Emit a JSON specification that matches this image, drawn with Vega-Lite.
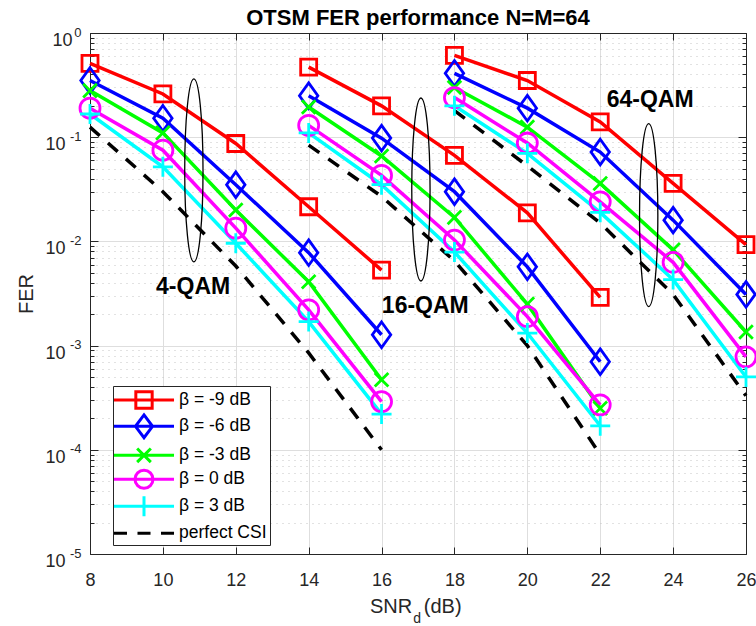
{
  "$schema": "https://vega.github.io/schema/vega-lite/v6.json",
  "width": 656,
  "height": 521,
  "autosize": {"type": "none"},
  "padding": {"left": 90, "top": 33, "right": 10, "bottom": 72},
  "background": "white",
  "title": {"text": "OTSM FER performance N=M=64", "fontSize": 22, "fontWeight": "bold", "color": "#000000", "anchor": "middle", "offset": -3.5, "font": "Liberation Sans"},
  "config": {"font": "Liberation Sans", "view": {"stroke": "#262626", "strokeWidth": 1}, "axis": {"minExtent": 0}},
  "datasets": {
    "curves": [
      {"mod": "4-QAM", "series": "β = -9 dB", "snr": 8, "fer": 0.51},
      {"mod": "4-QAM", "series": "β = -9 dB", "snr": 10, "fer": 0.26},
      {"mod": "4-QAM", "series": "β = -9 dB", "snr": 12, "fer": 0.087},
      {"mod": "4-QAM", "series": "β = -9 dB", "snr": 14, "fer": 0.0215},
      {"mod": "4-QAM", "series": "β = -9 dB", "snr": 16, "fer": 0.0053},
      {"mod": "4-QAM", "series": "β = -6 dB", "snr": 8, "fer": 0.35},
      {"mod": "4-QAM", "series": "β = -6 dB", "snr": 10, "fer": 0.152},
      {"mod": "4-QAM", "series": "β = -6 dB", "snr": 12, "fer": 0.035},
      {"mod": "4-QAM", "series": "β = -6 dB", "snr": 14, "fer": 0.0078},
      {"mod": "4-QAM", "series": "β = -6 dB", "snr": 16, "fer": 0.00127},
      {"mod": "4-QAM", "series": "β = -3 dB", "snr": 8, "fer": 0.28},
      {"mod": "4-QAM", "series": "β = -3 dB", "snr": 10, "fer": 0.11},
      {"mod": "4-QAM", "series": "β = -3 dB", "snr": 12, "fer": 0.02},
      {"mod": "4-QAM", "series": "β = -3 dB", "snr": 14, "fer": 0.0041},
      {"mod": "4-QAM", "series": "β = -3 dB", "snr": 16, "fer": 0.00047},
      {"mod": "4-QAM", "series": "β = 0 dB", "snr": 8, "fer": 0.19},
      {"mod": "4-QAM", "series": "β = 0 dB", "snr": 10, "fer": 0.075},
      {"mod": "4-QAM", "series": "β = 0 dB", "snr": 12, "fer": 0.0134},
      {"mod": "4-QAM", "series": "β = 0 dB", "snr": 14, "fer": 0.0022},
      {"mod": "4-QAM", "series": "β = 0 dB", "snr": 16, "fer": 0.00029},
      {"mod": "4-QAM", "series": "β = 3 dB", "snr": 8, "fer": 0.167},
      {"mod": "4-QAM", "series": "β = 3 dB", "snr": 10, "fer": 0.052},
      {"mod": "4-QAM", "series": "β = 3 dB", "snr": 12, "fer": 0.0096},
      {"mod": "4-QAM", "series": "β = 3 dB", "snr": 14, "fer": 0.0017},
      {"mod": "4-QAM", "series": "β = 3 dB", "snr": 16, "fer": 0.00022},
      {"mod": "4-QAM", "series": "perfect CSI", "snr": 8, "fer": 0.125},
      {"mod": "4-QAM", "series": "perfect CSI", "snr": 10, "fer": 0.03},
      {"mod": "4-QAM", "series": "perfect CSI", "snr": 12, "fer": 0.0058},
      {"mod": "4-QAM", "series": "perfect CSI", "snr": 14, "fer": 0.00085},
      {"mod": "4-QAM", "series": "perfect CSI", "snr": 16, "fer": 0.0001},
      {"mod": "16-QAM", "series": "β = -9 dB", "snr": 14, "fer": 0.47},
      {"mod": "16-QAM", "series": "β = -9 dB", "snr": 16, "fer": 0.2},
      {"mod": "16-QAM", "series": "β = -9 dB", "snr": 18, "fer": 0.067},
      {"mod": "16-QAM", "series": "β = -9 dB", "snr": 20, "fer": 0.0188},
      {"mod": "16-QAM", "series": "β = -9 dB", "snr": 22, "fer": 0.0029},
      {"mod": "16-QAM", "series": "β = -6 dB", "snr": 14, "fer": 0.25},
      {"mod": "16-QAM", "series": "β = -6 dB", "snr": 16, "fer": 0.098},
      {"mod": "16-QAM", "series": "β = -6 dB", "snr": 18, "fer": 0.03},
      {"mod": "16-QAM", "series": "β = -6 dB", "snr": 20, "fer": 0.0057},
      {"mod": "16-QAM", "series": "β = -6 dB", "snr": 22, "fer": 0.0007},
      {"mod": "16-QAM", "series": "β = -3 dB", "snr": 14, "fer": 0.195},
      {"mod": "16-QAM", "series": "β = -3 dB", "snr": 16, "fer": 0.066},
      {"mod": "16-QAM", "series": "β = -3 dB", "snr": 18, "fer": 0.017},
      {"mod": "16-QAM", "series": "β = -3 dB", "snr": 20, "fer": 0.0025},
      {"mod": "16-QAM", "series": "β = -3 dB", "snr": 22, "fer": 0.00025},
      {"mod": "16-QAM", "series": "β = 0 dB", "snr": 14, "fer": 0.13},
      {"mod": "16-QAM", "series": "β = 0 dB", "snr": 16, "fer": 0.043},
      {"mod": "16-QAM", "series": "β = 0 dB", "snr": 18, "fer": 0.0103},
      {"mod": "16-QAM", "series": "β = 0 dB", "snr": 20, "fer": 0.0019},
      {"mod": "16-QAM", "series": "β = 0 dB", "snr": 22, "fer": 0.00027},
      {"mod": "16-QAM", "series": "β = 3 dB", "snr": 14, "fer": 0.11},
      {"mod": "16-QAM", "series": "β = 3 dB", "snr": 16, "fer": 0.035},
      {"mod": "16-QAM", "series": "β = 3 dB", "snr": 18, "fer": 0.0079},
      {"mod": "16-QAM", "series": "β = 3 dB", "snr": 20, "fer": 0.00132},
      {"mod": "16-QAM", "series": "β = 3 dB", "snr": 22, "fer": 0.00017},
      {"mod": "16-QAM", "series": "perfect CSI", "snr": 14, "fer": 0.084},
      {"mod": "16-QAM", "series": "perfect CSI", "snr": 16, "fer": 0.027},
      {"mod": "16-QAM", "series": "perfect CSI", "snr": 18, "fer": 0.0065},
      {"mod": "16-QAM", "series": "perfect CSI", "snr": 20, "fer": 0.001},
      {"mod": "16-QAM", "series": "perfect CSI", "snr": 22, "fer": 0.00009},
      {"mod": "64-QAM", "series": "β = -9 dB", "snr": 18, "fer": 0.61},
      {"mod": "64-QAM", "series": "β = -9 dB", "snr": 20, "fer": 0.35},
      {"mod": "64-QAM", "series": "β = -9 dB", "snr": 22, "fer": 0.14},
      {"mod": "64-QAM", "series": "β = -9 dB", "snr": 24, "fer": 0.036},
      {"mod": "64-QAM", "series": "β = -9 dB", "snr": 26, "fer": 0.0093},
      {"mod": "64-QAM", "series": "β = -6 dB", "snr": 18, "fer": 0.41},
      {"mod": "64-QAM", "series": "β = -6 dB", "snr": 20, "fer": 0.19},
      {"mod": "64-QAM", "series": "β = -6 dB", "snr": 22, "fer": 0.072},
      {"mod": "64-QAM", "series": "β = -6 dB", "snr": 24, "fer": 0.016},
      {"mod": "64-QAM", "series": "β = -6 dB", "snr": 26, "fer": 0.0031},
      {"mod": "64-QAM", "series": "β = -3 dB", "snr": 18, "fer": 0.3},
      {"mod": "64-QAM", "series": "β = -3 dB", "snr": 20, "fer": 0.125},
      {"mod": "64-QAM", "series": "β = -3 dB", "snr": 22, "fer": 0.036},
      {"mod": "64-QAM", "series": "β = -3 dB", "snr": 24, "fer": 0.0083},
      {"mod": "64-QAM", "series": "β = -3 dB", "snr": 26, "fer": 0.00135},
      {"mod": "64-QAM", "series": "β = 0 dB", "snr": 18, "fer": 0.24},
      {"mod": "64-QAM", "series": "β = 0 dB", "snr": 20, "fer": 0.088},
      {"mod": "64-QAM", "series": "β = 0 dB", "snr": 22, "fer": 0.024},
      {"mod": "64-QAM", "series": "β = 0 dB", "snr": 24, "fer": 0.0063},
      {"mod": "64-QAM", "series": "β = 0 dB", "snr": 26, "fer": 0.00078},
      {"mod": "64-QAM", "series": "β = 3 dB", "snr": 18, "fer": 0.2},
      {"mod": "64-QAM", "series": "β = 3 dB", "snr": 20, "fer": 0.07},
      {"mod": "64-QAM", "series": "β = 3 dB", "snr": 22, "fer": 0.019},
      {"mod": "64-QAM", "series": "β = 3 dB", "snr": 24, "fer": 0.0043},
      {"mod": "64-QAM", "series": "β = 3 dB", "snr": 26, "fer": 0.0005},
      {"mod": "64-QAM", "series": "perfect CSI", "snr": 18, "fer": 0.18},
      {"mod": "64-QAM", "series": "perfect CSI", "snr": 20, "fer": 0.053},
      {"mod": "64-QAM", "series": "perfect CSI", "snr": 22, "fer": 0.015},
      {"mod": "64-QAM", "series": "perfect CSI", "snr": 24, "fer": 0.0031},
      {"mod": "64-QAM", "series": "perfect CSI", "snr": 26, "fer": 0.00033}
    ],
    "ellipses": [
      {"snr": 10.85, "fer": 0.048},
      {"snr": 17.08, "fer": 0.0315},
      {"snr": 23.33, "fer": 0.0179}
    ],
    "labels": [
      {"label": "4-QAM", "snr": 10.83, "fer": 0.0031},
      {"label": "16-QAM", "snr": 17.2, "fer": 0.00205},
      {"label": "64-QAM", "snr": 23.37, "fer": 0.195}
    ]
  },
  "layer": [
    {
      "data": {"name": "curves"},
      "transform": [{"filter": "datum.snr < 0"}],
      "mark": {"type": "point", "filled": false, "strokeWidth": 3, "opacity": 1},
      "encoding": {
        "color": {"field": "series", "type": "nominal",
          "scale": {"domain": ["β = -9 dB", "β = -6 dB", "β = -3 dB", "β = 0 dB", "β = 3 dB", "perfect CSI"], "range": ["#ff0000", "#0000ff", "#00ff00", "#ff00ff", "#00ffff", "#000000"]},
          "legend": {"orient": "none", "legendX": 23, "legendY": 353, "title": null, "symbolSize": 361, "symbolStrokeWidth": 3, "symbolOffset": 17, "labelOffset": 24, "labelFontSize": 17.5, "labelColor": "#000000", "padding": 3, "rowPadding": -6.7, "strokeColor": "#262626", "fillColor": "#ffffff", "symbolOpacity": 1}},
        "shape": {"field": "series", "type": "nominal",
          "scale": {"domain": ["β = -9 dB", "β = -6 dB", "β = -3 dB", "β = 0 dB", "β = 3 dB", "perfect CSI"],
            "range": ["M-3.16,0H3.16M-0.86,-0.86H0.86V0.86H-0.86Z", "M-3.16,0H3.16M0,-1.2L0.9,0L0,1.2L-0.9,0Z", "M-3.16,0H3.16M-0.72,-0.72L0.72,0.72M-0.72,0.72L0.72,-0.72", "M-3.16,0H3.16M0.95,0A0.95,0.95 0 1,1 -0.95,0A0.95,0.95 0 1,1 0.95,0", "M-3.16,0H3.16M0,-1.05V1.05", "M-3.16,0H-1.79M-0.685,0H0.685M1.79,0H3.16"]},
          "legend": {"orient": "none", "legendX": 23, "legendY": 353, "title": null, "symbolSize": 361, "symbolStrokeWidth": 3, "symbolOffset": 17, "labelOffset": 24, "labelFontSize": 17.5, "labelColor": "#000000", "padding": 3, "rowPadding": -6.7, "strokeColor": "#262626", "fillColor": "#ffffff", "symbolOpacity": 1}}
      }
    },
    {
      "data": {"name": "curves"},
      "transform": [{"filter": "datum.series !== 'perfect CSI'"}],
      "mark": {"type": "line", "strokeWidth": 3.5},
      "encoding": {
        "x": {"field": "snr", "type": "quantitative", "scale": {"domain": [8, 26], "nice": false, "zero": false},
          "axis": {"orient": "bottom", "values": [8, 10, 12, 14, 16, 18, 20, 22, 24, 26], "grid": true, "gridColor": "#dedede", "gridWidth": 1, "domain": true, "domainColor": "#262626", "ticks": true, "tickColor": "#262626", "tickSize": -7, "tickWidth": 1, "labelFontSize": 18, "labelColor": "#262626", "labelPadding": 24, "labelFlush": false, "labelOverlap": false, "title": null}},
        "y": {"field": "fer", "type": "quantitative", "scale": {"type": "log", "domain": [0.00001, 1], "nice": false},
          "axis": {"orient": "left",
            "values": [0.00001,0.00002,0.00003,0.00004,0.00005,0.00006,0.00007,0.00008,0.00009,0.0001,0.0002,0.0003,0.0004,0.0005,0.0006,0.0007,0.0008,0.0009,0.001,0.002,0.003,0.004,0.005,0.006,0.007,0.008,0.009,0.01,0.02,0.03,0.04,0.05,0.06,0.07,0.08,0.09,0.1,0.2,0.3,0.4,0.5,0.6,0.7,0.8,0.9,1],
            "grid": true,
            "gridColor": {"condition": {"test": "abs(log(datum.value)/LN10 - round(log(datum.value)/LN10)) < 0.001", "value": "#dedede"}, "value": "#c4c4c4"},
            "gridDash": {"condition": {"test": "abs(log(datum.value)/LN10 - round(log(datum.value)/LN10)) < 0.001", "value": []}, "value": [1, 5]},
            "domainColor": "#262626", "tickColor": "#262626",
            "tickSize": {"condition": {"test": "abs(log(datum.value)/LN10 - round(log(datum.value)/LN10)) < 0.001", "value": -8}, "value": -4},
            "labelExpr": "abs(log(datum.value)/LN10 - round(log(datum.value)/LN10)) > 0.001 ? '' : '10'",
            "labelFontSize": 18, "labelColor": "#262626",
            "labelPadding": {"condition": {"test": "datum.value > 0.5", "value": 26}, "value": 33},
            "labelBaseline": "alphabetic", "labelOffset": 12.5, "labelOverlap": false, "labelFlush": false,
            "title": "FER", "titleFontSize": 20, "titleFontWeight": "normal", "titleColor": "#262626", "titleX": -54, "titleY": 260.5}},
        "color": {"field": "series", "type": "nominal"},
        "detail": {"field": "mod", "type": "nominal"}
      }
    },
    {
      "data": {"name": "curves"},
      "transform": [{"filter": "datum.series === 'perfect CSI'"}],
      "mark": {"type": "line", "strokeWidth": 3.5, "strokeDash": [13, 11]},
      "encoding": {
        "x": {"field": "snr", "type": "quantitative", "scale": {"domain": [8, 26], "nice": false, "zero": false}, "axis": null},
        "y": {"field": "fer", "type": "quantitative", "scale": {"type": "log", "domain": [0.00001, 1], "nice": false}, "axis": null},
        "color": {"field": "series", "type": "nominal"},
        "detail": {"field": "mod", "type": "nominal"}
      }
    },
    {
      "data": {"name": "curves"},
      "transform": [{"filter": "datum.series === 'β = -9 dB'"}],
      "mark": {"type": "point", "shape": "M-1,-1H1V1H-1Z", "filled": false, "strokeWidth": 2.8, "size": 256, "opacity": 1},
      "encoding": {
        "x": {"field": "snr", "type": "quantitative", "scale": {"domain": [8, 26], "nice": false, "zero": false},
          "axis": {"orient": "top", "values": [8, 10, 12, 14, 16, 18, 20, 22, 24, 26], "grid": false, "labels": false, "domainColor": "#262626", "tickColor": "#262626", "tickSize": -7, "title": null, "minExtent": 0}},
        "y": {"field": "fer", "type": "quantitative", "scale": {"type": "log", "domain": [0.00001, 1], "nice": false},
          "axis": {"orient": "right",
            "values": [0.00001,0.00002,0.00003,0.00004,0.00005,0.00006,0.00007,0.00008,0.00009,0.0001,0.0002,0.0003,0.0004,0.0005,0.0006,0.0007,0.0008,0.0009,0.001,0.002,0.003,0.004,0.005,0.006,0.007,0.008,0.009,0.01,0.02,0.03,0.04,0.05,0.06,0.07,0.08,0.09,0.1,0.2,0.3,0.4,0.5,0.6,0.7,0.8,0.9,1],
            "grid": false, "labels": false, "domainColor": "#262626", "tickColor": "#262626",
            "tickSize": {"condition": {"test": "abs(log(datum.value)/LN10 - round(log(datum.value)/LN10)) < 0.001", "value": -8}, "value": -4},
            "title": null, "minExtent": 0}},
        "color": {"field": "series", "type": "nominal"}
      }
    },
    {
      "data": {"name": "curves"},
      "transform": [{"filter": "datum.series === 'β = -6 dB'"}],
      "mark": {"type": "point", "shape": "M0,-1.6L1.15,0L0,1.6L-1.15,0Z", "filled": false, "strokeWidth": 2.8, "size": 256, "opacity": 1},
      "encoding": {
        "x": {"field": "snr", "type": "quantitative", "scale": {"domain": [8, 26], "nice": false, "zero": false}, "axis": null},
        "y": {"field": "fer", "type": "quantitative", "scale": {"type": "log", "domain": [0.00001, 1], "nice": false},
          "axis": {"orient": "left", "values": [0.00001, 0.0001, 0.001, 0.01, 0.1, 1], "grid": false, "domain": false, "ticks": false, "tickSize": 0,
            "labelExpr": "'' + round(log(datum.value)/LN10)", "labelFontSize": 13, "labelColor": "#262626", "labelAlign": "right", "labelBaseline": "alphabetic", "labelPadding": 9, "labelOffset": 3, "labelOverlap": false, "labelFlush": false, "title": null, "minExtent": 0}},
        "color": {"field": "series", "type": "nominal"}
      }
    },
    {
      "data": {"name": "curves"},
      "transform": [{"filter": "datum.series === 'β = -3 dB'"}],
      "mark": {"type": "point", "shape": "M-0.85,-0.85L0.85,0.85M-0.85,0.85L0.85,-0.85", "filled": false, "strokeWidth": 2.8, "size": 256, "opacity": 1},
      "encoding": {
        "x": {"field": "snr", "type": "quantitative", "scale": {"domain": [8, 26], "nice": false, "zero": false}, "axis": null},
        "y": {"field": "fer", "type": "quantitative", "scale": {"type": "log", "domain": [0.00001, 1], "nice": false}, "axis": null},
        "color": {"field": "series", "type": "nominal"}
      }
    },
    {
      "data": {"name": "curves"},
      "transform": [{"filter": "datum.series === 'β = 0 dB'"}],
      "mark": {"type": "point", "shape": "M1.25,0A1.25,1.25 0 1,1 -1.25,0A1.25,1.25 0 1,1 1.25,0Z", "filled": false, "strokeWidth": 2.8, "size": 256, "opacity": 1},
      "encoding": {
        "x": {"field": "snr", "type": "quantitative", "scale": {"domain": [8, 26], "nice": false, "zero": false}, "axis": null},
        "y": {"field": "fer", "type": "quantitative", "scale": {"type": "log", "domain": [0.00001, 1], "nice": false}, "axis": null},
        "color": {"field": "series", "type": "nominal"}
      }
    },
    {
      "data": {"name": "curves"},
      "transform": [{"filter": "datum.series === 'β = 3 dB'"}],
      "mark": {"type": "point", "shape": "M-1.25,0H1.25M0,-1.25V1.25", "filled": false, "strokeWidth": 2.8, "size": 256, "opacity": 1},
      "encoding": {
        "x": {"field": "snr", "type": "quantitative", "scale": {"domain": [8, 26], "nice": false, "zero": false}, "axis": null},
        "y": {"field": "fer", "type": "quantitative", "scale": {"type": "log", "domain": [0.00001, 1], "nice": false}, "axis": null},
        "color": {"field": "series", "type": "nominal"}
      }
    },
    {
      "data": {"name": "ellipses"},
      "mark": {"type": "point", "shape": "M0,-1A0.1,1 0 1,1 0,1A0.1,1 0 1,1 0,-1Z", "size": 33489, "filled": false, "color": "#000000", "strokeWidth": 1.3, "opacity": 1},
      "encoding": {
        "x": {"field": "snr", "type": "quantitative", "scale": {"domain": [8, 26], "nice": false, "zero": false}, "axis": null},
        "y": {"field": "fer", "type": "quantitative", "scale": {"type": "log", "domain": [0.00001, 1], "nice": false}, "axis": null}
      }
    },
    {
      "data": {"name": "labels"},
      "mark": {"type": "text", "fontSize": 23, "fontWeight": "bold", "color": "#000000", "align": "center", "baseline": "alphabetic"},
      "encoding": {
        "x": {"field": "snr", "type": "quantitative", "scale": {"domain": [8, 26], "nice": false, "zero": false}, "axis": null},
        "y": {"field": "fer", "type": "quantitative", "scale": {"type": "log", "domain": [0.00001, 1], "nice": false}, "axis": null},
        "text": {"field": "label", "type": "nominal"}
      }
    },
    {
      "data": {"values": [{}]},
      "mark": {"type": "text", "text": "SNR", "fontSize": 20, "color": "#262626", "align": "right", "baseline": "alphabetic", "dy": 59},
      "encoding": {
        "x": {"datum": 16.84, "type": "quantitative", "scale": {"domain": [8, 26], "nice": false, "zero": false}, "axis": null},
        "y": {"datum": 0.00001, "type": "quantitative", "scale": {"type": "log", "domain": [0.00001, 1], "nice": false}, "axis": null}
      }
    },
    {
      "data": {"values": [{}]},
      "mark": {"type": "text", "text": "d", "fontSize": 14, "color": "#262626", "align": "left", "baseline": "alphabetic", "dy": 69},
      "encoding": {
        "x": {"datum": 16.87, "type": "quantitative", "scale": {"domain": [8, 26], "nice": false, "zero": false}, "axis": null},
        "y": {"datum": 0.00001, "type": "quantitative", "scale": {"type": "log", "domain": [0.00001, 1], "nice": false}, "axis": null}
      }
    },
    {
      "data": {"values": [{}]},
      "mark": {"type": "text", "text": "(dB)", "fontSize": 20, "color": "#262626", "align": "left", "baseline": "alphabetic", "dy": 59},
      "encoding": {
        "x": {"datum": 17.16, "type": "quantitative", "scale": {"domain": [8, 26], "nice": false, "zero": false}, "axis": null},
        "y": {"datum": 0.00001, "type": "quantitative", "scale": {"type": "log", "domain": [0.00001, 1], "nice": false}, "axis": null}
      }
    }
  ],
  "resolve": {"axis": {"x": "independent", "y": "independent"}}
}
